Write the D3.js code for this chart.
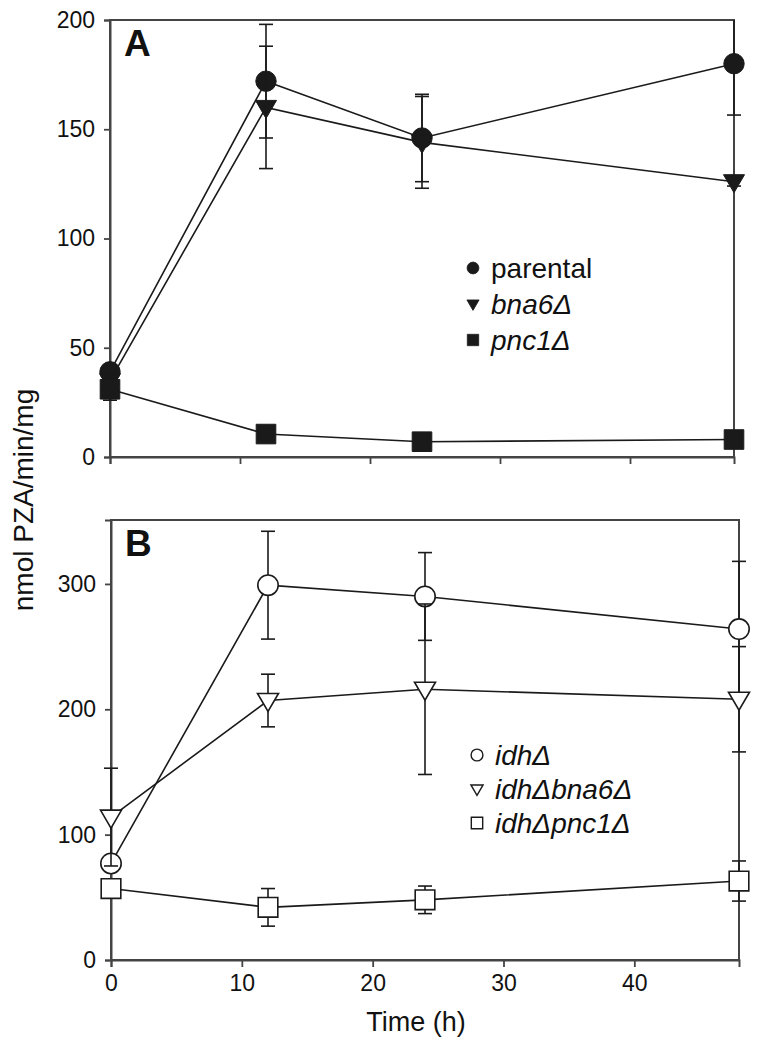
<!DOCTYPE html>
<html><head><meta charset="utf-8">
<script src="https://cdn.jsdelivr.net/npm/d3@7"></script>
<style>body{margin:0;background:#fff}svg{display:block}text{font-family:"Liberation Sans",Arial,sans-serif;fill:#111}</style>
</head><body><svg id="c" width="758" height="1050"></svg>
<script>
const times = [0, 12, 24, 48];
const xTicks = [0, 10, 20, 30, 40];
const yTicksA = [0, 50, 100, 150, 200];
const yTicksB = [0, 100, 200, 300];
// Panel A
const parental = [39, 172, 146, 180];
const parentalErr = [3, 26, 20, 23.5];
const bna6 = [35, 160, 144, 126];
const bna6Err = [3, 28, 21, 2];
const pnc1 = [31, 10.5, 7, 8];
const pnc1Err = [5, 1, 1, 1];
// Panel B
const idh = [77, 299, 290, 264];
const idhErr = [3, 43, 35, 54];
const idhBna6 = [114, 207, 216, 208];
const idhBna6Err = [39, 21, 68, 42];
const idhPnc1 = [57, 42, 48, 63];
const idhPnc1Err = [3, 15, 11, 16];
const legendA = ["parental", "bna6Δ", "pnc1Δ"];
const legendB = ["idhΔ", "idhΔbna6Δ", "idhΔpnc1Δ"];

const svg = d3.select("#c");
const ink = "#1a1a1a", frame = "#444";

function panel(cfg) {
  const x = d3.scaleLinear().domain([0, 48]).range([cfg.left, cfg.right]);
  const y = d3.scaleLinear().domain(cfg.yDomain).range([cfg.bottom, cfg.top]);
  const g = svg.append("g");
  const clipId = "clip" + cfg.letter;
  svg.append("defs").append("clipPath").attr("id", clipId).append("rect")
    .attr("x", cfg.left - 15).attr("y", cfg.top).attr("width", cfg.right - cfg.left + 30)
    .attr("height", cfg.bottom - cfg.top);
  // frame
  g.append("rect").attr("x", cfg.left).attr("y", cfg.top)
    .attr("width", cfg.right - cfg.left).attr("height", cfg.bottom - cfg.top)
    .attr("fill", "none").attr("stroke", frame).attr("stroke-width", 2);
  // axes
  const xa = g.append("g").attr("transform", `translate(0,${cfg.bottom})`)
    .call(d3.axisBottom(x).tickValues(xTicks).tickSize(7).tickPadding(8)
      .tickFormat(cfg.xLabels ? d3.format("d") : () => ""));
  const ya = g.append("g").attr("transform", `translate(${cfg.left},0)`)
    .call(d3.axisLeft(y).tickValues(cfg.yTicks).tickSize(6).tickPadding(9));
  [xa, ya].forEach(a => {
    a.select(".domain").attr("stroke", frame).attr("stroke-width", 2);
    a.selectAll(".tick line").attr("stroke", frame).attr("stroke-width", 1.8);
    a.selectAll(".tick text").attr("font-size", 23).attr("fill", "#111")
      .style("font-family", '"Liberation Sans",Arial,sans-serif');
  });
  // panel letter
  g.append("text").attr("x", cfg.left + 14).attr("y", cfg.top + 36)
    .attr("font-size", 37).attr("font-weight", "bold").text(cfg.letter);

  cfg.series.forEach(s => {
    const pts = times.map((t, i) => ({ t, v: s.values[i], e: s.err[i] }));
    g.append("path").datum(pts)
      .attr("d", d3.line().x(d => x(d.t)).y(d => y(d.v)))
      .attr("fill", "none").attr("stroke", ink).attr("stroke-width", 1.6);
    const eb = g.append("g").attr("clip-path", `url(#${clipId})`)
      .selectAll("g").data(pts).join("g");
    eb.append("line").attr("x1", d => x(d.t)).attr("x2", d => x(d.t))
      .attr("y1", d => y(d.v - d.e)).attr("y2", d => y(d.v + d.e))
      .attr("stroke", ink).attr("stroke-width", 1.6);
    [-1, 1].forEach(sg => {
      eb.append("line").attr("x1", d => x(d.t) - 7).attr("x2", d => x(d.t) + 7)
        .attr("y1", d => y(d.v + sg * d.e)).attr("y2", d => y(d.v + sg * d.e))
        .attr("stroke", ink).attr("stroke-width", 1.6);
    });
    g.append("g").selectAll("path").data(pts).join("path")
      .attr("transform", d => `translate(${x(d.t)},${y(d.v)})`)
      .attr("d", symbolPath(s.shape, 1))
      .attr("fill", s.open ? "#fff" : ink).attr("stroke", ink).attr("stroke-width", s.open ? 1.6 : 1);
  });
  // legend
  cfg.series.forEach((s, i) => {
    const ly = cfg.legY + i * cfg.legDy;
    g.append("path").attr("transform", `translate(${cfg.legX},${ly})`)
      .attr("d", symbolPath(s.shape, 0.58))
      .attr("fill", s.open ? "#fff" : ink).attr("stroke", ink).attr("stroke-width", s.open ? 1.4 : 0.8);
    g.append("text").attr("x", cfg.legX + 18).attr("y", ly + 10)
      .attr("font-size", 28).attr("font-style", s.italic ? "italic" : "normal")
      .text(cfg.labels[i]);
  });
}

function symbolPath(shape, k) {
  if (shape === "circle") { const r = 10.2 * k; return `M${-r},0A${r},${r} 0 1,0 ${r},0A${r},${r} 0 1,0 ${-r},0Z`; }
  if (shape === "square") { const h = 9.8 * k; return `M${-h},${-h}H${h}V${h}H${-h}Z`; }
  const w = 10.5 * k, t = 7 * k, b = 11 * k;
  return `M${-w},${-t}L${w},${-t}L0,${b}Z`;
}

panel({
  left: 110, right: 734, top: 20, bottom: 457, yDomain: [0, 200], yTicks: yTicksA,
  xLabels: false, letter: "A", legX: 473, legY: 268, legDy: 36, labels: legendA,
  series: [
    { values: parental, err: parentalErr, shape: "circle", open: false, italic: false },
    { values: bna6, err: bna6Err, shape: "tri", open: false, italic: true },
    { values: pnc1, err: pnc1Err, shape: "square", open: false, italic: true }
  ]
});
panel({
  left: 111, right: 739, top: 520, bottom: 960, yDomain: [0, 351], yTicks: yTicksB,
  xLabels: true, letter: "B", legX: 477, legY: 755, legDy: 34, labels: legendB,
  series: [
    { values: idh, err: idhErr, shape: "circle", open: true, italic: true },
    { values: idhBna6, err: idhBna6Err, shape: "tri", open: true, italic: true },
    { values: idhPnc1, err: idhPnc1Err, shape: "square", open: true, italic: true }
  ]
});

svg.append("text").attr("x", 416).attr("y", 1031).attr("text-anchor", "middle")
  .attr("font-size", 27).text("Time (h)");
svg.append("text").attr("transform", "translate(33,500) rotate(-90)")
  .attr("text-anchor", "middle").attr("font-size", 28).text("nmol PZA/min/mg");
</script></body></html>
